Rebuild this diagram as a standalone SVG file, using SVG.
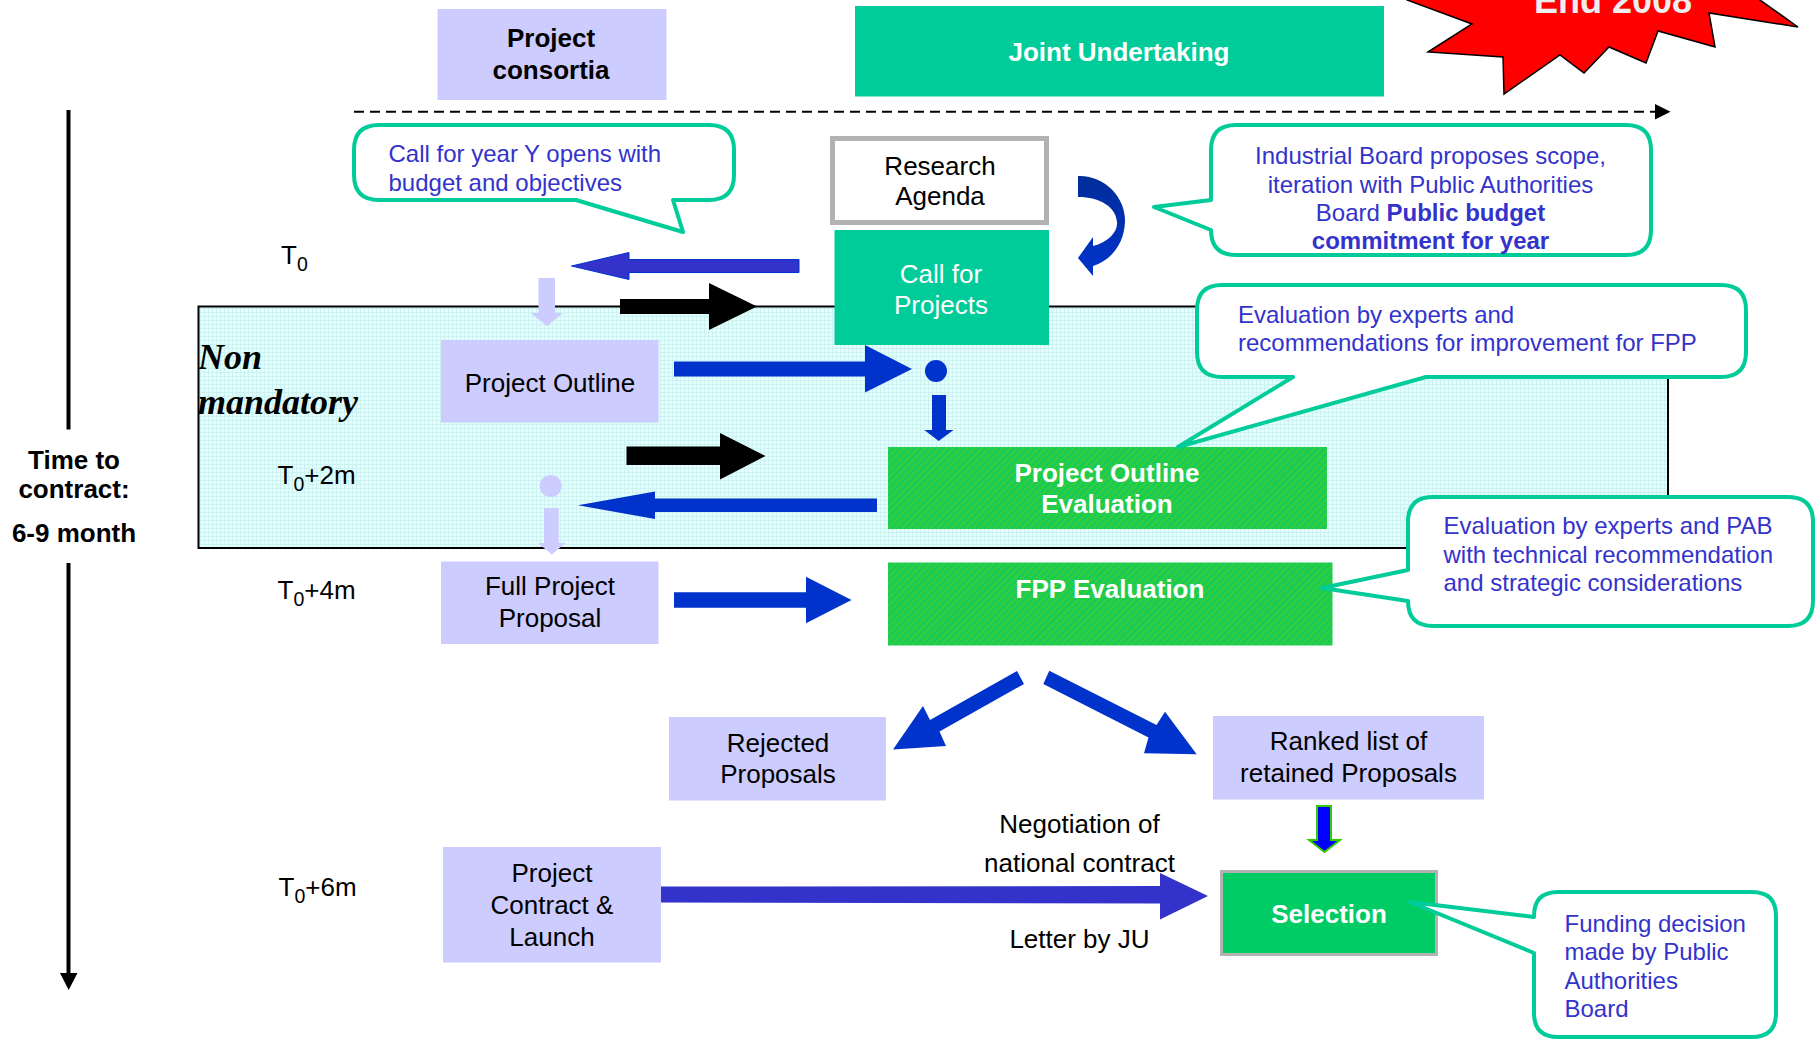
<svg xmlns="http://www.w3.org/2000/svg" width="1820" height="1041" viewBox="0 0 1820 1041">
<style>
text{font-family:"Liberation Sans",Arial,sans-serif}
.bx{font-size:26px;fill:#000;text-anchor:middle}
.bxb{font-size:26px;font-weight:bold;fill:#fff;text-anchor:middle}
.co{font-size:24px;fill:#3333CC}
.tl{font-size:26px;fill:#000}
.call{fill:#fff;stroke:#00CC99;stroke-width:4;stroke-linejoin:round}
.pur{fill:#CCCCFF}
.blue{fill:#0033CC}
</style>
<defs>
<pattern id="grid" width="4" height="4" patternUnits="userSpaceOnUse"><rect width="4" height="4" fill="#E4FEFE"/><path d="M0,0.5H4M0.5,0V4" stroke="#CDF2F2" stroke-width="1"/></pattern>
<pattern id="hatch" width="5" height="5" patternUnits="userSpaceOnUse" patternTransform="rotate(45)"><rect width="5" height="5" fill="#10CC60"/><rect width="2.5" height="5" fill="#36CC36"/></pattern>
<linearGradient id="cg" x1="0" y1="0" x2="0" y2="1"><stop offset="0" stop-color="#002D99"/><stop offset="1" stop-color="#0033CC"/></linearGradient>
</defs>
<rect width="1820" height="1041" fill="#fff"/>

<g id="star">
<polygon points="1400,-40 1407,0 1472,24 1428,52 1503,57 1504,94 1560,55 1584,73 1609,47 1646,63 1658,31 1715,47 1709,13 1798,27 1760,0 1760,-40" fill="#FF0000" stroke="#000" stroke-width="1.5"/>
<text x="1613" y="13" font-size="36" font-weight="bold" fill="#EEEEEE" text-anchor="middle">End 2008</text>
</g>

<g id="non-mandatory">
<rect x="198.5" y="306.5" width="1469.5" height="241.5" fill="url(#grid)" stroke="#000" stroke-width="2"/>
<text x="198" y="368.5" font-family="'Liberation Serif',serif" font-size="36" font-weight="bold" font-style="italic" style="font-family:'Liberation Serif',serif">Non</text>
<text x="198" y="413.5" font-size="36" font-weight="bold" font-style="italic" style="font-family:'Liberation Serif',serif">mandatory</text>
</g>

<g id="timeline">
<line x1="68.5" y1="110" x2="68.5" y2="429.5" stroke="#000" stroke-width="4"/>
<line x1="68.5" y1="563" x2="68.5" y2="975" stroke="#000" stroke-width="4"/>
<polygon points="60,973 77.5,973 68.7,990" fill="#000"/>
<text x="74" y="469" font-size="26" font-weight="bold" text-anchor="middle">Time to</text>
<text x="74" y="498" font-size="26" font-weight="bold" text-anchor="middle">contract:</text>
<text x="74" y="542" font-size="26" font-weight="bold" text-anchor="middle">6-9 month</text>
<text class="tl" x="281" y="263.5">T<tspan font-size="19.5" dy="7.5">0</tspan></text>
<text class="tl" x="277.5" y="483.5">T<tspan font-size="19.5" dy="7.5">0</tspan><tspan dy="-7.5">+2m</tspan></text>
<text class="tl" x="277.5" y="598.5">T<tspan font-size="19.5" dy="7.5">0</tspan><tspan dy="-7.5">+4m</tspan></text>
<text class="tl" x="278.5" y="895.5">T<tspan font-size="19.5" dy="7.5">0</tspan><tspan dy="-7.5">+6m</tspan></text>
</g>

<g id="project-consortia">
<rect class="pur" x="437.5" y="9" width="229" height="91"/>
<text x="551" y="47" font-size="26" font-weight="bold" text-anchor="middle">Project</text>
<text x="551" y="79" font-size="26" font-weight="bold" text-anchor="middle">consortia</text>
</g>

<g id="joint-undertaking">
<rect x="855" y="6" width="529" height="90.5" fill="#00CC99"/>
<text class="bxb" x="1119" y="61">Joint Undertaking</text>
</g>

<g id="research-agenda">
<rect x="832.5" y="138.5" width="214" height="84" fill="#fff" stroke="#B2B2B2" stroke-width="5"/>
<text class="bx" x="940" y="175">Research</text>
<text class="bx" x="940" y="205">Agenda</text>
</g>

<g id="call-for-projects">
<rect x="834.5" y="230" width="214.5" height="115" fill="#00CC99"/>
<text class="bx" x="941" y="282.5" fill="#fff" style="fill:#fff">Call for</text>
<text class="bx" x="941" y="314" style="fill:#fff">Projects</text>
</g>

<g id="project-outline">
<rect class="pur" x="441" y="340" width="217.5" height="82.5"/>
<text class="bx" x="550" y="391.5">Project Outline</text>
</g>

<g id="project-outline-evaluation">
<rect x="888" y="447" width="439" height="82" fill="url(#hatch)"/>
<text class="bxb" x="1107" y="482">Project Outline</text>
<text class="bxb" x="1107" y="513">Evaluation</text>
</g>

<g id="full-project-proposal">
<rect class="pur" x="441" y="561.5" width="217.5" height="82.5"/>
<text class="bx" x="550" y="595">Full Project</text>
<text class="bx" x="550" y="626.5">Proposal</text>
</g>

<g id="fpp-evaluation">
<rect x="888" y="562.5" width="444.5" height="83" fill="url(#hatch)"/>
<text class="bxb" x="1110" y="598">FPP Evaluation</text>
</g>

<g id="rejected-proposals">
<rect class="pur" x="669" y="717" width="217" height="83.5"/>
<text class="bx" x="778" y="751.5">Rejected</text>
<text class="bx" x="778" y="782.5">Proposals</text>
</g>

<g id="ranked-list">
<rect class="pur" x="1213" y="716" width="271" height="83.5"/>
<text class="bx" x="1348.5" y="750">Ranked list of</text>
<text class="bx" x="1348.5" y="781.5">retained Proposals</text>
</g>

<g id="project-contract">
<rect class="pur" x="443" y="847" width="218" height="115.5"/>
<text class="bx" x="552" y="881.5">Project</text>
<text class="bx" x="552" y="914">Contract &amp;</text>
<text class="bx" x="552" y="946">Launch</text>
</g>

<g id="selection">
<rect x="1221.5" y="871.5" width="215" height="83" fill="#00CC66" stroke="#B2B2B2" stroke-width="3"/>
<text class="bxb" x="1329" y="922.5">Selection</text>
</g>

<g id="connectors">
<line x1="354" y1="111.7" x2="1656" y2="111.7" stroke="#000" stroke-width="2" stroke-dasharray="10,6"/>
<polygon points="1655,104 1670.5,111.7 1655,119.5" fill="#000"/>
<path d="M1078,176 C1105,175 1126,198 1125,222 C1124,245 1110,261 1093,266 L1093,276 L1078,258 L1093,237 L1093,246 C1108,242 1118,232 1117,222 C1116,207 1100,197 1078,197 Z" fill="url(#cg)"/>
<polygon points="799,259.5 629,259.5 629,252.5 571.5,266 629,279.5 629,272.5 799,272.5" fill="#3333CC" stroke="#0033CC" stroke-width="1"/>
<polygon points="620,299 709,299 709,283 757,306.5 709,330 709,314 620,314" fill="#000"/>
<polygon class="pur" points="538.5,278 555,278 555,313 563,313 547,326 531,313 538.5,313"/>
<polygon class="blue" points="674,361.5 865,361.5 865,345 912,369 865,392.5 865,376.5 674,376.5"/>
<circle class="blue" cx="936" cy="371" r="11"/>
<polygon class="blue" points="932,395 946,395 946,430 953.5,430 938.7,441 924.3,430 932,430"/>
<polygon points="626.5,446.5 720,446.5 720,433 765.5,456 720,479.5 720,465 626.5,465" fill="#000"/>
<polygon class="blue" points="877,498.5 655,498.5 655,491.5 578,505.3 655,519 655,512 877,512"/>
<circle class="pur" cx="550.7" cy="486" r="11"/>
<polygon class="pur" points="544,508 558.7,508 558.7,543 565.6,543 551.8,554.5 538,543 544,543"/>
<polygon class="blue" points="674,592.3 806,592.3 806,576.7 851.5,600 806,623.3 806,607.7 674,607.7"/>
<polygon class="blue" points="1017,671 1024,684 939.5,731.5 946,746 893,749.5 923,706 930,720"/>
<polygon class="blue" points="1049.3,670.7 1043.3,684 1148.5,737.5 1144,753.3 1196.7,754.3 1165,711.7 1156.5,725"/>
<polygon points="1317,806 1331,806 1331,840 1340,840 1324.5,852 1309,840 1317,840" fill="#0000FF" stroke="#33CC00" stroke-width="2"/>
<polygon points="661,886.5 1160,886 1160,873 1208,896 1160,919.5 1160,903.5 661,902.5" fill="#3333CC"/>
<text class="bx" x="1079.5" y="833">Negotiation of</text>
<text class="bx" x="1079.5" y="871.5">national contract</text>
<text class="bx" x="1079.5" y="948">Letter by JU</text>
</g>

<g id="callout-call">
<path class="call" d="M379,125 H709 Q734,125 734,150 V175 Q734,200 709,200 H673 L683,232 L576,200 H379 Q354,200 354,175 V150 Q354,125 379,125 Z"/>
<text class="co" x="388.5" y="161.5">Call for year Y opens with</text>
<text class="co" x="388.5" y="190.5">budget and objectives</text>
</g>

<g id="callout-industrial">
<path class="call" d="M1236,125 H1626 Q1651,125 1651,150 V230 Q1651,255 1626,255 H1236 Q1211,255 1211,230 L1154,207 L1211,200 V150 Q1211,125 1236,125 Z"/>
<text class="co" x="1430.5" y="164" text-anchor="middle">Industrial Board proposes scope,</text>
<text class="co" x="1430.5" y="192.5" text-anchor="middle">iteration with Public Authorities</text>
<text class="co" x="1430.5" y="220.5" text-anchor="middle">Board <tspan font-weight="bold">Public budget</tspan></text>
<text class="co" x="1430.5" y="248.5" text-anchor="middle" font-weight="bold">commitment for year</text>
</g>

<g id="callout-recommendations">
<path class="call" d="M1222,285 H1721 Q1746,285 1746,310 V352 Q1746,377 1721,377 H1426 L1178,447 L1293,377 H1222 Q1197,377 1197,352 V310 Q1197,285 1222,285 Z"/>
<text class="co" x="1238" y="322.5">Evaluation by experts and</text>
<text class="co" x="1238" y="351">recommendations for improvement for FPP</text>
</g>

<g id="callout-pab">
<path class="call" d="M1433,497 H1788 Q1813,497 1813,522 V601 Q1813,626 1788,626 H1433 Q1408,626 1408,601 L1322,588 L1408,570 V522 Q1408,497 1433,497 Z"/>
<text class="co" x="1443.5" y="534">Evaluation by experts and PAB</text>
<text class="co" x="1443.5" y="562.5">with technical recommendation</text>
<text class="co" x="1443.5" y="590.5">and strategic considerations</text>
</g>

<g id="callout-funding">
<path class="call" d="M1558,892 H1752 Q1776,892 1776,916 V1013 Q1776,1037 1752,1037 H1558 Q1534,1037 1534,1013 V953 L1410,902 L1534,917 V916 Q1534,892 1558,892 Z"/>
<text class="co" x="1564.5" y="931.5">Funding decision</text>
<text class="co" x="1564.5" y="960">made by Public</text>
<text class="co" x="1564.5" y="989">Authorities</text>
<text class="co" x="1564.5" y="1017">Board</text>
</g>
</svg>
